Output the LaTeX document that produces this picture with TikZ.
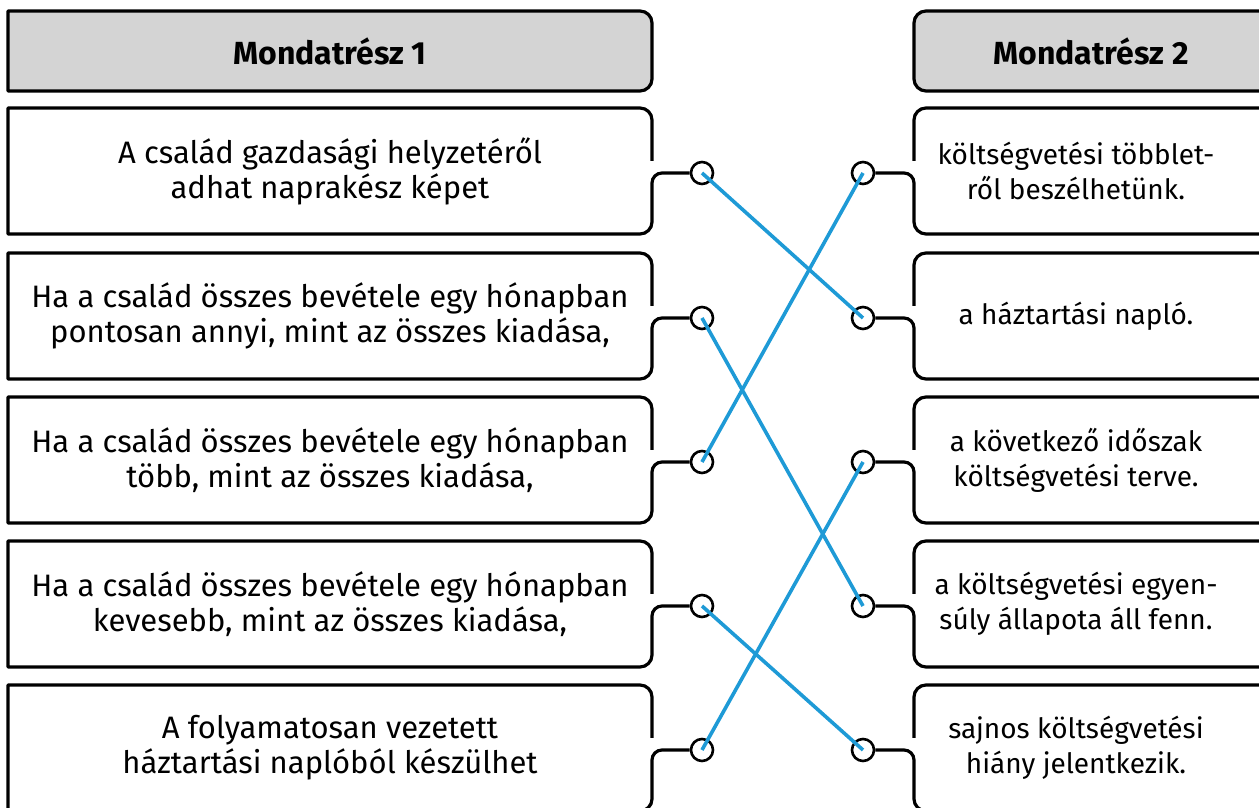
\documentclass[tikz,border=0pt]{standalone}
\usepackage{fontspec}
\setmainfont{Fira Sans}
\definecolor{headgray}{HTML}{D4D4D4}
\definecolor{linkblue}{HTML}{1E9AD6}
\tikzset{
  boxline/.style={line width=3.2pt, line join=round},
  txt/.style={align=center, font=\fontsize{31}{35}\selectfont},
  rtxt/.style={align=center, font=\fontsize{28}{35}\selectfont},
  head/.style={font=\fontsize{32}{35}\selectfont\bfseries},
  dot/.style={circle, draw, line width=2.6pt, fill=white, inner sep=0pt, minimum size=22pt},
  link/.style={linkblue, line width=3.6pt}
}
\begin{document}
\begin{tikzpicture}[x=1pt,y=1pt]
  \clip (0,0) rectangle (1259,808);

  % headers
  \draw[boxline, fill=headgray] (8,797) -- (640,797) arc[start angle=90,end angle=0,radius=12pt]
    -- (652,729) arc[start angle=0,end angle=-90,radius=12pt] -- (8,717) -- cycle;
  \draw[boxline, fill=headgray] (1275,797) -- (926,797) arc[start angle=90,end angle=180,radius=12pt]
    -- (914,729) arc[start angle=180,end angle=270,radius=12pt] -- (1275,717) -- cycle;
  \node[head] (head1) at (330,757) {Mondatrész 1};
  \node[head] (head2) at (1091,757) {Mondatrész 2};

  % sockets
  \node[dot] (l1) at (702,635) {};
  \node[dot] (l2) at (702,490) {};
  \node[dot] (l3) at (702,346) {};
  \node[dot] (l4) at (702,202) {};
  \node[dot] (l5) at (702,58) {};
  \node[dot] (r1) at (863,635) {};
  \node[dot] (r2) at (863,490) {};
  \node[dot] (r3) at (863,346) {};
  \node[dot] (r4) at (863,202) {};
  \node[dot] (r5) at (863,58) {};

  % boxes
  \foreach \Y/\n in {700/1,555/2,411/3,267/4,123/5} {
    \draw[boxline] (652,\Y-53) -- (652,\Y-12) arc[start angle=0,end angle=90,radius=12pt]
      -- (8,\Y) -- (8,\Y-126) -- (640,\Y-126) arc[start angle=-90,end angle=0,radius=12pt]
      -- (652,\Y-75) arc[start angle=180,end angle=90,radius=10pt] -- (l\n.west);
    \draw[boxline] (914,\Y-53) -- (914,\Y-12) arc[start angle=180,end angle=90,radius=12pt]
      -- (1275,\Y);
    \draw[boxline] (r\n.east) -- (904,\Y-65) arc[start angle=90,end angle=0,radius=10pt]
      -- (914,\Y-114) arc[start angle=180,end angle=270,radius=12pt] -- (1275,\Y-126);
  }

  % left texts
  \node[txt] (a1) at (330,637) {A család gazdasági helyzetéről\\adhat naprakész képet};
  \node[txt] (a2) at (330,492) {Ha a család összes bevétele egy hónapban\\pontosan annyi, mint az összes kiadása,};
  \node[txt] (a3) at (330,348) {Ha a család összes bevétele egy hónapban\\több, mint az összes kiadása,};
  \node[txt] (a4) at (330,204) {Ha a család összes bevétele egy hónapban\\kevesebb, mint az összes kiadása,};
  \node[txt] (a5) at (330,60) {A folyamatosan vezetett\\háztartási naplóból készülhet};

  % right texts
  \node[rtxt] (b1) at (1076,637) {költségvetési többlet-\\ről beszélhetünk.};
  \node[rtxt] (b2) at (1076,492) {a háztartási napló.};
  \node[rtxt] (b3) at (1076,348) {a következő időszak\\költségvetési terve.};
  \node[rtxt] (b4) at (1076,204) {a költségvetési egyen-\\súly állapota áll fenn.};
  \node[rtxt] (b5) at (1076,60) {sajnos költségvetési\\hiány jelentkezik.};

  % answers
  \draw[link] (l1.center) -- (r2.center);
  \draw[link] (l2.center) -- (r4.center);
  \draw[link] (l3.center) -- (r1.center);
  \draw[link] (l4.center) -- (r5.center);
  \draw[link] (l5.center) -- (r3.center);
\end{tikzpicture}
\end{document}
